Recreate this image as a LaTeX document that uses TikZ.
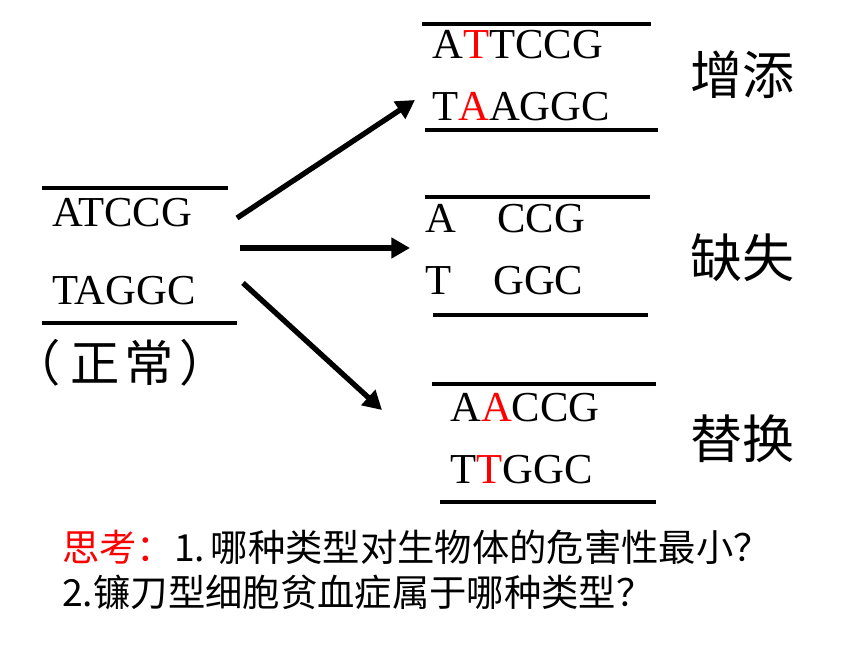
\documentclass[tikz,border=0pt]{standalone}
\usepackage{fontspec}
\setmainfont{Liberation Serif}
\newfontfamily\cjk{Noto Sans CJK SC}
\usetikzlibrary{arrows.meta}

\begin{document}
\begin{tikzpicture}[x=0.75pt, y=-0.75pt,
    strand/.style={line width=3.4pt},
    base/.style={anchor=base west, inner sep=0pt, font=\fontsize{32}{32}\selectfont},
    kind/.style={anchor=base west, inner sep=0pt, font=\cjk\fontsize{39}{39}\selectfont},
    note/.style={anchor=base west, inner sep=0pt, font=\cjk\fontsize{28}{34}\selectfont},
    mutation/.style={-{Triangle[length=14pt, width=15pt]}, line width=4pt}
]
    \useasboundingbox (0,0) rectangle (860,645);

    % Normal DNA
    \draw[strand] (42,188) -- (228,188);
    \node[base] (top) at (52,227) {ATCCG};
    \node[base] (bottom) at (52,305) {TAGGC};
    \draw[strand] (42,323) -- (237,323);
    \node[anchor=base west, inner sep=0pt, font=\cjk\fontsize{37}{37}\selectfont] (normal) at (11,381) {（\kern0.2em正\kern0.1em常\kern0.1em）};

    % Insertion
    \draw[strand] (422,24) -- (651,24);
    \node[base] (insTop) at (432,59) {A\textcolor{red}{T}TCCG};
    \node[base] (insBottom) at (432,121) {T\textcolor{red}{A}AGGC};
    \draw[strand] (425,130) -- (658,130);
    \node[kind] (insert) at (690,95) {增添};

    % Deletion
    \draw[strand] (425,197) -- (650,197);
    \node[base] (delTopA) at (425,233) {A};
    \node[base] (delTop) at (497,233) {CCG};
    \node[base] (delBottomT) at (425,295) {T};
    \node[base] (delBottom) at (493,295) {GGC};
    \draw[strand] (433,315) -- (648,315);
    \node[kind] (delete) at (690,277) {缺失};

    % Substitution
    \draw[strand] (432,384) -- (656,384);
    \node[base] (subTop) at (450,421) {A\textcolor{red}{A}CCG};
    \node[base] (subBottom) at (450,483) {T\textcolor{red}{T}GGC};
    \draw[strand] (440,502) -- (656,502);
    \node[kind] (replace) at (690,458) {替换};

    % Arrows
    \coordinate (s1) at (237,218);
    \coordinate (e1) at (415,100);
    \coordinate (s2) at (240,248);
    \coordinate (e2) at (410,248);
    \coordinate (s3) at (243,283);
    \coordinate (e3) at (382,410);
    \draw[mutation] (s1) -- (e1);
    \draw[mutation] (s2) -- (e2);
    \draw[mutation] (s3) -- (e3);

    % Questions
    \node[note] (q1) at (62,561) {\textcolor{red}{思考：}1.\kern0.15em 哪种类型对生物体的危害性最小？};
    \node[note] (q2) at (62,606) {2.镰刀型细胞贫血症属于哪种类型？};
\end{tikzpicture}
\end{document}
